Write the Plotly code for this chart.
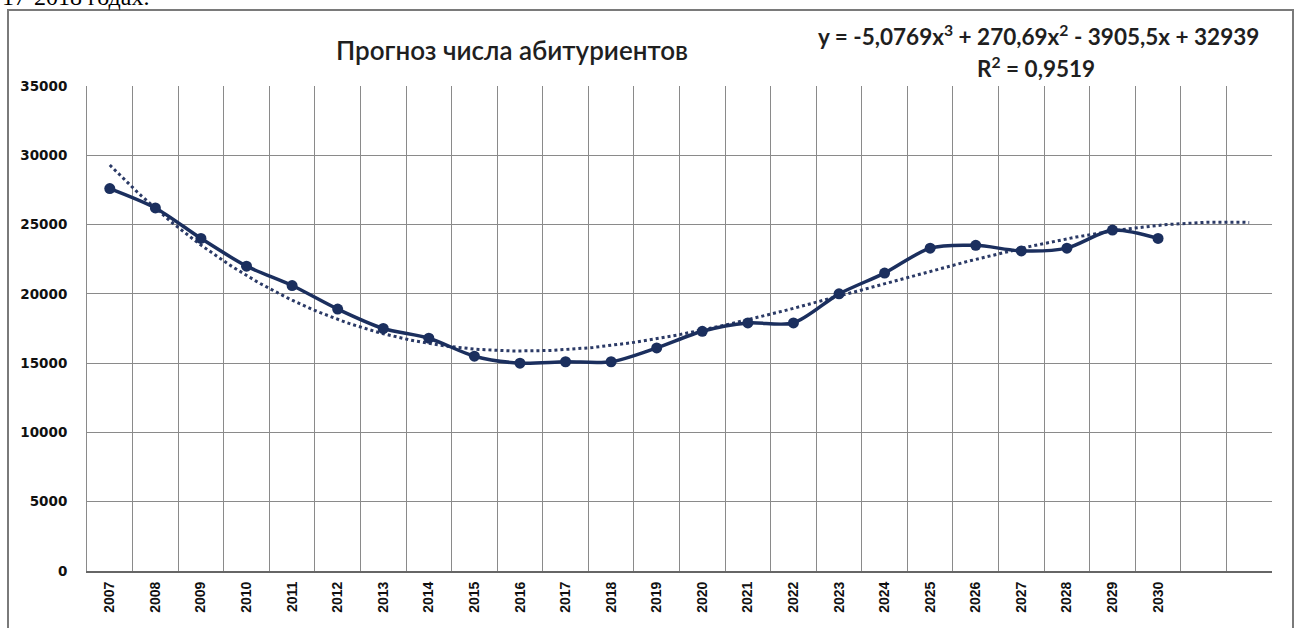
import plotly.graph_objects as go

# Категории (годы) и число абитуриентов
years = [str(y) for y in range(2007, 2031)]
applicants = [27600, 26200, 24000, 22000, 20600, 18900, 17500, 16800, 15500, 15000,
              15100, 15100, 16100, 17300, 17900, 17900, 20000, 21500, 23300, 23500,
              23100, 23300, 24600, 24000]

# Подписи оси значений
y_ticks = [0, 5000, 10000, 15000, 20000, 25000, 30000, 35000]

# Коэффициенты полиномиального тренда 3-й степени (x = 1, 2, ...)
trend_coef = [-5.0769, 270.69, -3905.5, 32939]
forecast_periods = 2

navy = "#1B2F5E"
grid = "#8a8a8a"

x_idx = list(range(1, len(years) + 1))
x_trend = [i / 10 for i in range(10, (len(years) + forecast_periods) * 10 + 1)]
a, b, c, d = trend_coef
y_trend = [a * t ** 3 + b * t ** 2 + c * t + d for t in x_trend]

n_cols = len(years) + forecast_periods

# Пиксельная геометрия области построения
L, R, T, B = 87, 1272, 86, 571
W, H = R - L, B - T


def px(x):
    return (x - L) / W


def py(y):
    return (B - y) / H


fig = go.Figure()
fig.add_trace(go.Scatter(
    x=x_trend, y=y_trend, mode="lines",
    line=dict(color="#2b3a66", width=3, dash="dot"),
    hoverinfo="skip", showlegend=False,
))
fig.add_trace(go.Scatter(
    x=x_idx, y=applicants, mode="lines+markers",
    line=dict(color=navy, width=3.5, shape="spline", smoothing=0.8),
    marker=dict(color=navy, size=11),
    showlegend=False,
))
# Вспомогательная ось для вертикальной сетки между категориями
fig.add_trace(go.Scatter(x=[0.5, n_cols + 0.5], y=[0, 0], xaxis="x2",
                         mode="none", hoverinfo="skip", showlegend=False))

fig.update_layout(
    width=1297, height=628,
    margin=dict(l=L, r=1297 - R, t=T, b=628 - B),
    paper_bgcolor="white", plot_bgcolor="white",
    font=dict(family="Liberation Sans, Arial", color="#222222"),
    xaxis=dict(
        range=[0.5, n_cols + 0.5],
        tickvals=x_idx, ticktext=years, tickangle=-90,
        tickfont=dict(size=14, family="Liberation Sans", color="#111111", weight="bold"),
        showgrid=False, zeroline=False,
        showline=True, linecolor="#666666", linewidth=2,
        ticks="", ticklabelstandoff=3,
    ),
    xaxis2=dict(
        range=[0.5, n_cols + 0.5], overlaying="x",
        tickvals=[i + 0.5 for i in range(0, n_cols + 1)],
        showgrid=True, gridcolor=grid, gridwidth=1,
        showticklabels=False, ticks="", zeroline=False, showline=False,
    ),
    yaxis=dict(
        range=[0, 35000], tickvals=y_ticks, ticktext=[str(v) for v in y_ticks],
        tickfont=dict(size=13.5, family="DejaVu Sans", color="#111111", weight="bold"),
        showgrid=True, gridcolor=grid, gridwidth=1,
        zeroline=False, showline=True, linecolor=grid, linewidth=1,
        ticks="", ticklabelstandoff=16,
    ),
    annotations=[
        dict(text="Прогноз числа абитуриентов", xref="paper", yref="paper",
             x=px(512), y=py(50), xanchor="center", yanchor="middle",
             showarrow=False, font=dict(size=26, family="Lato", color="#1f1f1f", weight=600)),
        dict(text="y = -5,0769x<sup>3</sup> + 270,69x<sup>2</sup> - 3905,5x + 32939",
             xref="paper", yref="paper",
             x=px(1038), y=py(35), xanchor="center", yanchor="middle",
             showarrow=False,
             font=dict(size=22.5, family="Lato", color="#1f1f1f", weight="bold")),
        dict(text="R<sup>2</sup> = 0,9519",
             xref="paper", yref="paper",
             x=px(1036), y=py(67), xanchor="center", yanchor="middle",
             showarrow=False,
             font=dict(size=22.5, family="Lato", color="#1f1f1f", weight="bold")),
        dict(text="17-2018 годах.", xref="paper", yref="paper",
             x=px(0), y=py(12), xanchor="left", yanchor="bottom",
             showarrow=False, font=dict(size=24, family="Liberation Serif", color="#000000")),
    ],
    shapes=[
        dict(type="rect", xref="paper", yref="paper",
             x0=px(8), x1=px(1293), y0=py(660), y1=py(10),
             line=dict(color="#7a7a7a", width=2), fillcolor="rgba(0,0,0,0)", layer="below"),
    ],
)

fig.write_html("out.html")
